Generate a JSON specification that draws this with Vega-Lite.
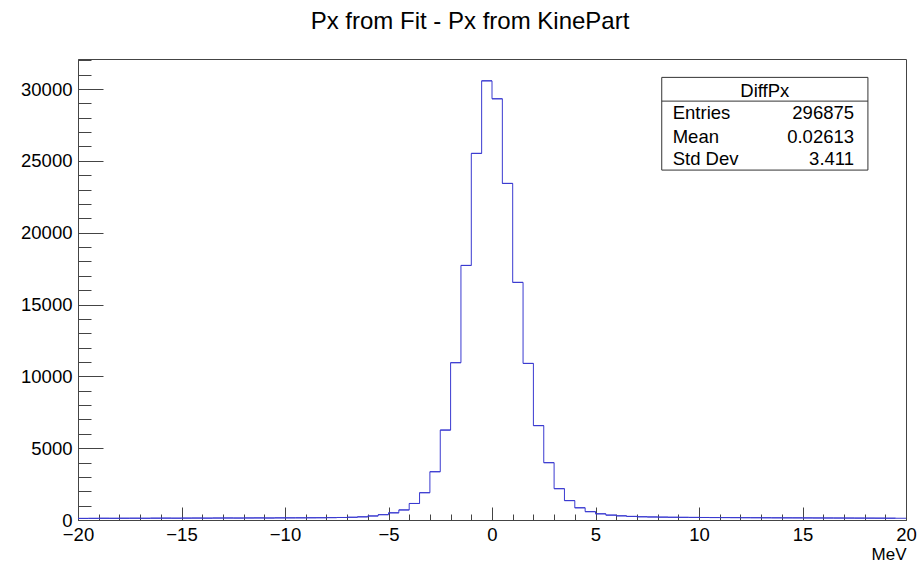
{
  "$schema": "https://vega.github.io/schema/vega-lite/v6.json",
  "width": 828,
  "height": 461,
  "autosize": {"type": "none"},
  "padding": {"left": 78, "top": 59, "right": 12, "bottom": 44},
  "background": "white",
  "config": {
    "font": "Liberation Sans",
    "view": {"stroke": "#444", "strokeWidth": 1},
    "axis": {"labelFont": "Liberation Sans", "titleFont": "Liberation Sans", "labelColor": "black", "titleColor": "black", "domainColor": "#444", "tickColor": "#444", "grid": false}
  },
  "title": {"text": "Px from Fit - Px from KinePart", "font": "Liberation Sans", "fontSize": 24, "fontWeight": "normal", "color": "black", "anchor": "middle", "offset": 25, "dx": -22},
  "datasets": {
    "hist": [
      {"lo": -20, "hi": -19.5, "count": 110}, {"lo": -19.5, "hi": -19, "count": 115}, {"lo": -19, "hi": -18.5, "count": 120}, {"lo": -18.5, "hi": -18, "count": 118},
      {"lo": -18, "hi": -17.5, "count": 122}, {"lo": -17.5, "hi": -17, "count": 125}, {"lo": -17, "hi": -16.5, "count": 120}, {"lo": -16.5, "hi": -16, "count": 128},
      {"lo": -16, "hi": -15.5, "count": 130}, {"lo": -15.5, "hi": -15, "count": 127}, {"lo": -15, "hi": -14.5, "count": 132}, {"lo": -14.5, "hi": -14, "count": 135},
      {"lo": -14, "hi": -13.5, "count": 130}, {"lo": -13.5, "hi": -13, "count": 138}, {"lo": -13, "hi": -12.5, "count": 140}, {"lo": -12.5, "hi": -12, "count": 136},
      {"lo": -12, "hi": -11.5, "count": 142}, {"lo": -11.5, "hi": -11, "count": 145}, {"lo": -11, "hi": -10.5, "count": 140}, {"lo": -10.5, "hi": -10, "count": 148},
      {"lo": -10, "hi": -9.5, "count": 150}, {"lo": -9.5, "hi": -9, "count": 152}, {"lo": -9, "hi": -8.5, "count": 155}, {"lo": -8.5, "hi": -8, "count": 158},
      {"lo": -8, "hi": -7.5, "count": 165}, {"lo": -7.5, "hi": -7, "count": 175}, {"lo": -7, "hi": -6.5, "count": 190}, {"lo": -6.5, "hi": -6, "count": 220},
      {"lo": -6, "hi": -5.5, "count": 280}, {"lo": -5.5, "hi": -5, "count": 370}, {"lo": -5, "hi": -4.5, "count": 500}, {"lo": -4.5, "hi": -4, "count": 700},
      {"lo": -4, "hi": -3.5, "count": 1150}, {"lo": -3.5, "hi": -3, "count": 1900}, {"lo": -3, "hi": -2.5, "count": 3360}, {"lo": -2.5, "hi": -2, "count": 6260},
      {"lo": -2, "hi": -1.5, "count": 10950}, {"lo": -1.5, "hi": -1, "count": 17720}, {"lo": -1, "hi": -0.5, "count": 25520}, {"lo": -0.5, "hi": 0, "count": 30570},
      {"lo": 0, "hi": 0.5, "count": 29320}, {"lo": 0.5, "hi": 1, "count": 23430}, {"lo": 1, "hi": 1.5, "count": 16540}, {"lo": 1.5, "hi": 2, "count": 10900},
      {"lo": 2, "hi": 2.5, "count": 6570}, {"lo": 2.5, "hi": 3, "count": 3990}, {"lo": 3, "hi": 3.5, "count": 2180}, {"lo": 3.5, "hi": 4, "count": 1350},
      {"lo": 4, "hi": 4.5, "count": 850}, {"lo": 4.5, "hi": 5, "count": 580}, {"lo": 5, "hi": 5.5, "count": 430}, {"lo": 5.5, "hi": 6, "count": 340},
      {"lo": 6, "hi": 6.5, "count": 290}, {"lo": 6.5, "hi": 7, "count": 250}, {"lo": 7, "hi": 7.5, "count": 225}, {"lo": 7.5, "hi": 8, "count": 210},
      {"lo": 8, "hi": 8.5, "count": 200}, {"lo": 8.5, "hi": 9, "count": 190}, {"lo": 9, "hi": 9.5, "count": 185}, {"lo": 9.5, "hi": 10, "count": 180},
      {"lo": 10, "hi": 10.5, "count": 175}, {"lo": 10.5, "hi": 11, "count": 170}, {"lo": 11, "hi": 11.5, "count": 168}, {"lo": 11.5, "hi": 12, "count": 165},
      {"lo": 12, "hi": 12.5, "count": 160}, {"lo": 12.5, "hi": 13, "count": 158}, {"lo": 13, "hi": 13.5, "count": 155}, {"lo": 13.5, "hi": 14, "count": 152},
      {"lo": 14, "hi": 14.5, "count": 150}, {"lo": 14.5, "hi": 15, "count": 148}, {"lo": 15, "hi": 15.5, "count": 145}, {"lo": 15.5, "hi": 16, "count": 142},
      {"lo": 16, "hi": 16.5, "count": 140}, {"lo": 16.5, "hi": 17, "count": 138}, {"lo": 17, "hi": 17.5, "count": 135}, {"lo": 17.5, "hi": 18, "count": 132},
      {"lo": 18, "hi": 18.5, "count": 130}, {"lo": 18.5, "hi": 19, "count": 128}, {"lo": 19, "hi": 19.5, "count": 125}, {"lo": 19.5, "hi": 20, "count": 122}
    ],
    "one": [{"box": "DiffPx"}]
  },
  "data": {"name": "hist"},
  "resolve": {"axis": {"x": "independent", "y": "independent"}},
  "layer": [
    {
      "mark": {"type": "line", "interpolate": "step-after", "color": "#3a3ad0", "strokeWidth": 1},
      "encoding": {
        "x": {"field": "lo", "type": "quantitative", "scale": {"domain": [-20, 20], "nice": false, "zero": false},
          "axis": {"orient": "bottom", "values": [-20, -15, -10, -5, 0, 5, 10, 15, 20], "format": "d", "tickSize": -13, "labelPadding": 18, "labelFontSize": 18.5, "labelFlush": false, "labelOverlap": false, "title": "MeV", "titleAnchor": "end", "titleAlign": "right", "titleFontSize": 17, "titleFontWeight": "normal", "titlePadding": 3, "domainColor": "#444"}},
        "y": {"field": "count", "type": "quantitative", "scale": {"domain": [0, 32090], "nice": false},
          "axis": {"orient": "left", "values": [0, 5000, 10000, 15000, 20000, 25000, 30000], "format": "d", "tickSize": -25, "labelPadding": 31, "labelFontSize": 18.5, "labelOverlap": false, "title": null}}
      }
    },
    {
      "mark": {"type": "rule", "color": "#3a3ad0", "strokeWidth": 1},
      "encoding": {
        "x": {"field": "lo", "type": "quantitative",
          "axis": {"orient": "bottom", "values": [-19, -18, -17, -16, -14, -13, -12, -11, -9, -8, -7, -6, -4, -3, -2, -1, 1, 2, 3, 4, 6, 7, 8, 9, 11, 12, 13, 14, 16, 17, 18, 19], "tickSize": -6, "labels": false, "domain": false, "title": null}},
        "x2": {"field": "hi"},
        "y": {"field": "count", "type": "quantitative",
          "axis": {"orient": "left", "values": [1000, 2000, 3000, 4000, 6000, 7000, 8000, 9000, 11000, 12000, 13000, 14000, 16000, 17000, 18000, 19000, 21000, 22000, 23000, 24000, 26000, 27000, 28000, 29000, 31000, 32000], "tickSize": -13, "labels": false, "domain": false, "title": null}}
      }
    },
    {
      "data": {"name": "one"},
      "mark": {"type": "rect", "fill": "white", "stroke": "#333", "strokeWidth": 1},
      "encoding": {
        "x": {"datum": 8.2, "type": "quantitative", "axis": null},
        "x2": {"datum": 18.16},
        "y": {"datum": 30810, "type": "quantitative", "axis": null},
        "y2": {"datum": 24357}
      }
    },
    {
      "data": {"name": "one"},
      "mark": {"type": "rule", "color": "#333", "strokeWidth": 1},
      "encoding": {
        "x": {"datum": 8.2, "type": "quantitative", "axis": null},
        "x2": {"datum": 18.16},
        "y": {"datum": 29158, "type": "quantitative", "axis": null}
      }
    },
    {
      "data": {"name": "one"},
      "mark": {"type": "text", "font": "Liberation Sans", "fontSize": 18.5, "align": "center", "baseline": "middle", "color": "black"},
      "encoding": {
        "x": {"datum": 13.18, "type": "quantitative", "axis": null},
        "y": {"datum": 29875, "type": "quantitative", "axis": null},
        "text": {"field": "box"}
      }
    },
    {
      "data": {"name": "one"},
      "mark": {"type": "text", "font": "Liberation Sans", "fontSize": 18.5, "align": "left", "baseline": "middle", "color": "black"},
      "encoding": {
        "x": {"datum": 8.73, "type": "quantitative", "axis": null},
        "y": {"datum": 28330, "type": "quantitative", "axis": null},
        "text": {"value": "Entries"}
      }
    },
    {
      "data": {"name": "one"},
      "mark": {"type": "text", "font": "Liberation Sans", "fontSize": 18.5, "align": "right", "baseline": "middle", "color": "black"},
      "encoding": {
        "x": {"datum": 17.49, "type": "quantitative", "axis": null},
        "y": {"datum": 28330, "type": "quantitative", "axis": null},
        "text": {"value": "296875"}
      }
    },
    {
      "data": {"name": "one"},
      "mark": {"type": "text", "font": "Liberation Sans", "fontSize": 18.5, "align": "left", "baseline": "middle", "color": "black"},
      "encoding": {
        "x": {"datum": 8.73, "type": "quantitative", "axis": null},
        "y": {"datum": 26674, "type": "quantitative", "axis": null},
        "text": {"value": "Mean"}
      }
    },
    {
      "data": {"name": "one"},
      "mark": {"type": "text", "font": "Liberation Sans", "fontSize": 18.5, "align": "right", "baseline": "middle", "color": "black"},
      "encoding": {
        "x": {"datum": 17.49, "type": "quantitative", "axis": null},
        "y": {"datum": 26674, "type": "quantitative", "axis": null},
        "text": {"value": "0.02613"}
      }
    },
    {
      "data": {"name": "one"},
      "mark": {"type": "text", "font": "Liberation Sans", "fontSize": 18.5, "align": "left", "baseline": "middle", "color": "black"},
      "encoding": {
        "x": {"datum": 8.73, "type": "quantitative", "axis": null},
        "y": {"datum": 25100, "type": "quantitative", "axis": null},
        "text": {"value": "Std Dev"}
      }
    },
    {
      "data": {"name": "one"},
      "mark": {"type": "text", "font": "Liberation Sans", "fontSize": 18.5, "align": "right", "baseline": "middle", "color": "black"},
      "encoding": {
        "x": {"datum": 17.49, "type": "quantitative", "axis": null},
        "y": {"datum": 25100, "type": "quantitative", "axis": null},
        "text": {"value": "3.411"}
      }
    }
  ]
}
